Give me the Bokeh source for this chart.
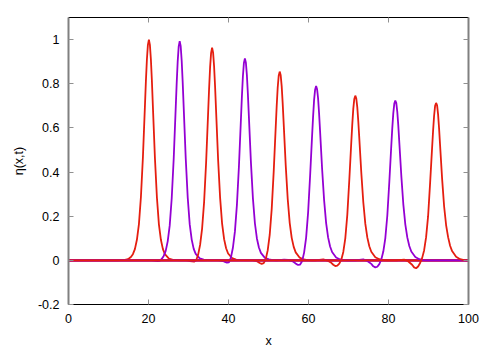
from bokeh.plotting import figure
from bokeh.models import Range1d, FixedTicker, LinearAxis
from bokeh.embed import file_html
from bokeh.resources import INLINE

# x-domain of every snapshot
X_MIN, X_MAX = 0, 100
# offsets (in x) from each crest at which the profile was read
OFFSETS = [-10, -8, -7, -6, -5.5, -5, -4.5, -4, -3.5, -3, -2.5, -2, -1.5, -1, -0.75, -0.5, -0.25,
           0, 0.25, 0.5, 0.75, 1, 1.5, 2, 2.5, 3, 3.5, 4, 5, 6, 7, 8]
# crest positions of the nine snapshots
CENTERS = [20.1, 27.8, 35.9, 44.1, 52.8, 61.9, 71.7, 81.7, 91.9]

ETA1 = [0, 0, 0.001, 0.002, 0.004, 0.008, 0.015, 0.028, 0.051, 0.093, 0.163, 0.286, 0.466, 0.696, 0.812, 0.910, 0.976,
        1.000, 0.976, 0.910, 0.812, 0.696, 0.466, 0.286, 0.163, 0.093, 0.051, 0.028, 0.008, 0.002, 0.001, 0]
ETA2 = [0, 0, 0, -0.002, -0.003, -0.002, 0.006, 0.020, 0.043, 0.086, 0.157, 0.280, 0.460, 0.689, 0.804, 0.902, 0.969,
        0.993, 0.970, 0.903, 0.806, 0.692, 0.465, 0.286, 0.164, 0.094, 0.052, 0.029, 0.009, 0.003, 0.001, 0]
ETA3 = [0, 0, 0.001, -0.001, -0.003, -0.005, -0.006, -0.001, 0.025, 0.070, 0.144, 0.264, 0.442, 0.665, 0.778, 0.875, 0.940,
        0.963, 0.941, 0.878, 0.785, 0.675, 0.457, 0.284, 0.166, 0.096, 0.055, 0.031, 0.010, 0.003, 0.001, 0]
ETA4 = [0, 0.001, 0.002, -0.001, -0.003, -0.007, -0.010, -0.009, 0.012, 0.057, 0.130, 0.250, 0.423, 0.636, 0.742, 0.834, 0.894,
        0.915, 0.895, 0.838, 0.751, 0.650, 0.446, 0.282, 0.168, 0.099, 0.058, 0.034, 0.011, 0.004, 0.001, 0]
ETA5 = [0, 0.002, 0.002, -0.002, -0.006, -0.012, -0.016, -0.013, 0.005, 0.045, 0.115, 0.232, 0.402, 0.602, 0.700, 0.783, 0.836,
        0.855, 0.838, 0.788, 0.710, 0.618, 0.432, 0.279, 0.170, 0.102, 0.061, 0.036, 0.012, 0.004, 0.001, 0]
ETA6 = [0, 0.003, 0.002, -0.003, -0.009, -0.016, -0.021, -0.019, -0.004, 0.035, 0.102, 0.216, 0.382, 0.565, 0.652, 0.727, 0.773,
        0.790, 0.775, 0.733, 0.664, 0.583, 0.415, 0.273, 0.170, 0.104, 0.063, 0.038, 0.013, 0.004, 0.001, 0]
ETA7 = [0, 0.004, -0.001, -0.011, -0.020, -0.026, -0.024, -0.015, 0.003, 0.038, 0.100, 0.206, 0.364, 0.536, 0.618, 0.687, 0.731,
        0.746, 0.733, 0.693, 0.629, 0.553, 0.397, 0.263, 0.166, 0.104, 0.064, 0.039, 0.014, 0.005, 0.001, 0]
ETA8 = [0, 0.004, -0.003, -0.016, -0.027, -0.032, -0.029, -0.017, 0.004, 0.040, 0.100, 0.202, 0.354, 0.520, 0.600, 0.667, 0.710,
        0.724, 0.712, 0.672, 0.610, 0.535, 0.384, 0.255, 0.163, 0.104, 0.065, 0.040, 0.015, 0.005, 0.001, 0]
ETA9 = [0, 0.003, -0.004, -0.020, -0.032, -0.036, -0.028, -0.012, 0.010, 0.045, 0.105, 0.200, 0.350, 0.510, 0.588, 0.655, 0.700,
        0.713, 0.702, 0.660, 0.596, 0.520, 0.370, 0.245, 0.160, 0.105, 0.066, 0.042, 0.016, 0.005, 0.001, 0]
ETAS = [ETA1, ETA2, ETA3, ETA4, ETA5, ETA6, ETA7, ETA8, ETA9]

X_TICKS = [0, 20, 40, 60, 80, 100]
Y_TICKS = [-0.2, 0, 0.2, 0.4, 0.6, 0.8, 1.0]
Y_TICK_LABELS = ["-0.2", "0", "0.2", "0.4", "0.6", "0.8", "1"]

RED = "#e51e10"
PURPLE = "#9400d3"
FONT = "Liberation Sans"

p = figure(width=492, height=350, x_range=Range1d(0, 100), y_range=Range1d(-0.2, 1.1),
           output_backend="svg", toolbar_location=None,
           min_border_left=68, min_border_right=24, min_border_top=17, min_border_bottom=45)
p.grid.visible = False
p.outline_line_color = None
p.background_fill_color = "white"
p.border_fill_color = "white"

for i, (c, eta) in enumerate(zip(CENTERS, ETAS)):
    xs = [X_MIN]
    ys = [0]
    for d, v in zip(OFFSETS, eta):
        x = c + d
        if X_MIN < x < X_MAX:
            xs.append(x)
            ys.append(v)
    xs.append(X_MAX)
    ys.append(0)
    p.line(xs, ys, line_color=RED if i % 2 == 0 else PURPLE, line_width=1.8)

def style(ax, color="#808080", width=2):
    ax.axis_line_color = color
    ax.axis_line_width = width
    ax.major_tick_in = 5
    ax.major_tick_out = 0
    ax.major_tick_line_color = "#909090"
    ax.major_tick_line_width = 1
    ax.minor_tick_line_color = None
    ax.major_label_text_font = FONT
    ax.major_label_text_font_size = "12.5px"
    ax.major_label_text_color = "black"
    ax.axis_label_text_font = FONT
    ax.axis_label_text_font_size = "12.5px"
    ax.axis_label_text_font_style = "normal"
    ax.axis_label_text_color = "black"

xa = p.xaxis[0]
xa.ticker = FixedTicker(ticks=X_TICKS)
xa.axis_label = "x"
style(xa, color="black", width=1)
xa.major_label_standoff = 9
xa.axis_label_standoff = 8

ya = p.yaxis[0]
ya.ticker = FixedTicker(ticks=Y_TICKS)
ya.major_label_overrides = {t: s for t, s in zip(Y_TICKS, Y_TICK_LABELS)}
ya.axis_label = "η(x,t)"
style(ya)
ya.major_label_standoff = 9
ya.axis_label_standoff = 9

# mirrored tick marks (no labels) on the top and right borders
top = LinearAxis(ticker=FixedTicker(ticks=X_TICKS))
style(top, color="black", width=1)
top.major_label_overrides = {t: "" for t in X_TICKS}
top.major_label_standoff = 0
p.add_layout(top, "above")
right = LinearAxis(ticker=FixedTicker(ticks=Y_TICKS))
style(right)
right.major_label_overrides = {t: "" for t in Y_TICKS}
right.major_label_standoff = 0
p.add_layout(right, "right")

open("out.html", "w").write(file_html(p, INLINE))
